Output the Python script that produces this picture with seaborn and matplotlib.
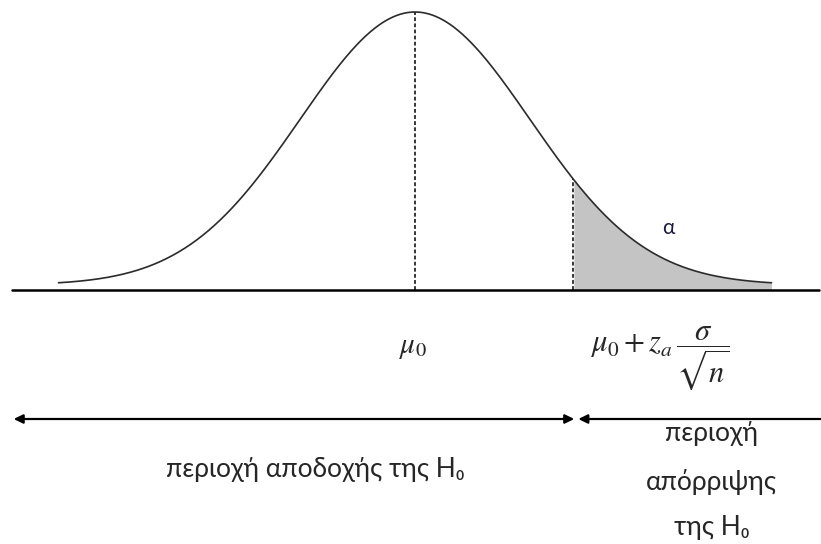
import numpy as np
import pandas as pd
import matplotlib
matplotlib.use("Agg")
import matplotlib.pyplot as plt
import seaborn as sns

sns.set_theme(style="white")
plt.rcParams["font.family"] = ["Lato", "DejaVu Sans"]
plt.rcParams["mathtext.fontset"] = "stix"

# Standardised normal curve under H0 (x in units of sigma from mu0)
z_range = [-3.10, 3.10]
z_crit = [1.375]
peak = [1.0]
baseline = [-0.0165]

# Labels
alpha_label = "α"
mu_label = r"$\mu_0$"
crit_label = r"$\mu_0 + z_a\,\dfrac{\sigma}{\sqrt{n}}$"
accept_label = "περιοχή αποδοχής της H₀"
reject_lines = ["περιοχή", "απόρριψης", "της H₀"]

z = np.linspace(z_range[0], z_range[1], 600)
df = pd.DataFrame({"z": z, "f": peak[0] * np.exp(-z ** 2 / 2)})

fig = plt.figure(figsize=(8.21, 5.44), dpi=100)
ax = fig.add_axes([0, 0, 1, 1])
ax.set_xlim(-415 / 115, 406 / 115)
ax.set_ylim(-259 / 273, 285 / 273)
ax.axis("off")


def ypix(p):
    """Vertical position measured in pixels from the top edge, in data units."""
    return (285 - p) / 273


# Shaded rejection tail
tail = df[df["z"] >= z_crit[0]]
ax.fill_between(tail["z"], baseline[0], tail["f"], color="#c4c4c4", lw=0, zorder=1)

# Density curve
sns.lineplot(data=df, x="z", y="f", ax=ax, color="#2b2b2b", lw=1.2, zorder=3)

# Horizontal axis
ax.plot([-3.505, 3.515], [baseline[0]] * 2, color="black", lw=1.8, zorder=4)

# Dashed verticals at the mean and at the critical value
f_crit = peak[0] * np.exp(-z_crit[0] ** 2 / 2)
ax.plot([0, 0], [baseline[0], peak[0]], color="black", lw=1.1, ls=(0, (2.5, 1.5)), zorder=2)
ax.plot([z_crit[0]] * 2, [baseline[0], f_crit], color="black", lw=1.1, ls=(0, (2.5, 1.5)), zorder=2)

# Labels on the curve and below the axis
ax.text(2.2, ypix(228), alpha_label, fontsize=15, ha="center", va="center", color="#1a1a3a")
ax.text(-0.02, ypix(348), mu_label, fontsize=21, ha="center", va="center")
ax.text(1.52, ypix(358), crit_label, fontsize=22, ha="left", va="center")

# Acceptance / rejection arrows
y_arrow = ypix(419)
both = dict(arrowstyle="<|-|>,head_length=0.45,head_width=0.22", color="black", lw=1.6,
            shrinkA=0, shrinkB=0)
one = dict(arrowstyle="-|>,head_length=0.45,head_width=0.22", color="black", lw=1.6,
           shrinkA=0, shrinkB=0)
ax.annotate("", xy=(-3.49, y_arrow), xytext=(z_crit[0] + 0.01, y_arrow), arrowprops=both)
ax.annotate("", xy=(z_crit[0] + 0.045, y_arrow), xytext=(3.9, y_arrow), arrowprops=one,
            annotation_clip=False)

ax.text(-0.87, ypix(470), accept_label, fontsize=19, ha="center", va="center")
for line, p in zip(reject_lines, [433, 482, 528]):
    ax.text(2.58, ypix(p), line, fontsize=19, ha="center", va="center")

fig.savefig("out.png", dpi=100)
